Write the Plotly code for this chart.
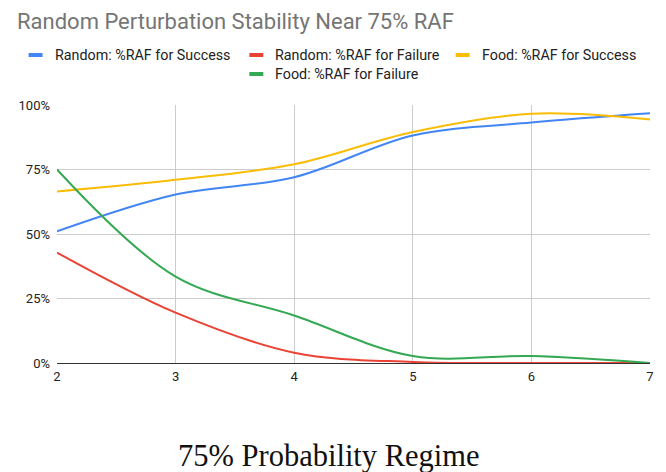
import plotly.graph_objects as go

x_vals = [2, 3, 4, 5, 6, 7]
random_success = [0.51, 0.653, 0.72, 0.882, 0.932, 0.968]
random_failure = [0.428, 0.195, 0.04, 0.004, 0.0, 0.0]
food_success = [0.665, 0.71, 0.77, 0.895, 0.966, 0.944]
food_failure = [0.75, 0.335, 0.184, 0.027, 0.027, 0.0]

series_names = ["Random: %RAF for Success", "Random: %RAF for Failure",
                "Food: %RAF for Success", "Food: %RAF for Failure"]
series_vals = [random_success, random_failure, food_success, food_failure]
colors = ["#4285F4", "#EA4335", "#FBBC04", "#34A853"]
y_ticks = [0, 0.25, 0.5, 0.75, 1.0]
y_tick_labels = ["0%", "25%", "50%", "75%", "100%"]
title_text = "Random Perturbation Stability Near 75% RAF"
caption_text = "75% Probability Regime"

W, H = 666, 472
L, R, T, B = 57, 14, 105, 109
PW, PH = W - L - R, H - T - B

fig = go.Figure()
for name, vals, c in zip(series_names, series_vals, colors):
    fig.add_trace(go.Scatter(x=x_vals, y=vals, name=name, mode="lines",
                             line=dict(color=c, width=2, shape="spline", smoothing=1),
                             showlegend=False, hoverinfo="skip"))

def fx(p):
    return (p - L) / PW

def fy(p):
    return (H - B - p) / PH

annotations = []
shapes = []
# title
annotations.append(dict(text=title_text, xref="paper", yref="paper", x=fx(15), y=fy(21),
                        xanchor="left", yanchor="middle", showarrow=False,
                        font=dict(family="Roboto", size=22, color="#757575")))
# legend
leg_items = [(0, 28.5, 55), (1, 250, 55), (2, 457, 55), (3, 250, 74)]
for idx, sx, sy in leg_items:
    shapes.append(dict(type="line", xref="paper", yref="paper", x0=fx(sx), x1=fx(sx + 14),
                       y0=fy(sy), y1=fy(sy), line=dict(color=colors[idx], width=4)))
    annotations.append(dict(text=series_names[idx], xref="paper", yref="paper",
                            x=fx(sx + 24), y=fy(sy), xanchor="left", yanchor="middle",
                            showarrow=False, font=dict(family="Roboto", size=14.3, color="#222222")))
# caption
annotations.append(dict(text=caption_text, xref="paper", yref="paper",
                        x=fx(330), y=fy(456), xanchor="center", yanchor="middle", showarrow=False,
                        font=dict(family="Liberation Serif", size=30.5, color="#111111")))

fig.update_layout(
    width=W, height=H, margin=dict(l=L, r=R, t=T, b=B, pad=0),
    paper_bgcolor="white", plot_bgcolor="white",
    annotations=annotations, shapes=shapes, showlegend=False,
    xaxis=dict(range=[2, 7], tickvals=x_vals, ticktext=[str(v) for v in x_vals],
               showgrid=True, gridcolor="#cccccc", gridwidth=1, zeroline=False,
               showline=True, linecolor="#333333", linewidth=1, mirror=False,
               ticks="", ticklabelstandoff=1,
               tickfont=dict(family="Roboto", size=13, color="#222222")),
    yaxis=dict(range=[0, 1], tickvals=y_ticks, ticktext=y_tick_labels,
               showgrid=True, gridcolor="#cccccc", gridwidth=1, zeroline=False,
               showline=False, ticks="", ticklabelstandoff=6,
               tickfont=dict(family="Roboto", size=13, color="#222222")),
)
fig.write_html("out.html")
